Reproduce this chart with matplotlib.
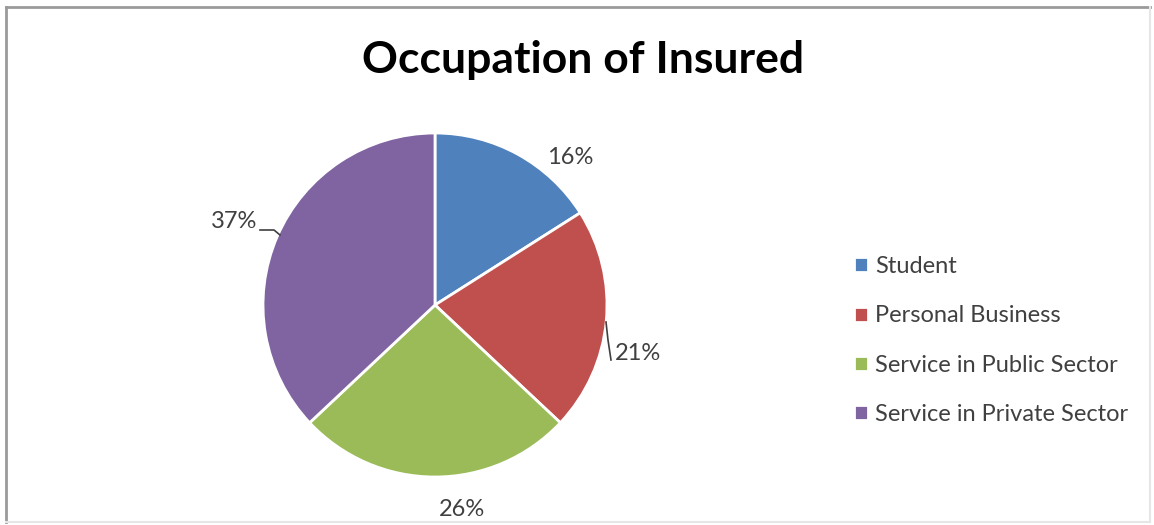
import matplotlib
matplotlib.use('Agg')
import matplotlib.pyplot as plt
from matplotlib.lines import Line2D

plt.rcParams['font.family'] = ['Lato', 'DejaVu Sans']

# Data
categories = ['Student', 'Personal Business', 'Service in Public Sector', 'Service in Private Sector']
shares = [16, 21, 26, 37]
colors = ['#4F81BD', '#C0504D', '#9BBB59', '#8064A2']

W, H = 1154, 525
fig = plt.figure(figsize=(W / 100, H / 100), dpi=100)
ax = fig.add_axes([0, 0, 1, 1])

# Frame: darker on the left/top, faint on the right/bottom
frame = [((6, 6), (522, 7), '#9a9a9a', 2.0),
         ((6, 1150), (7, 7), '#9a9a9a', 2.0),
         ((1150, 1150), (7, 522), '#e6e6e6', 1.5),
         ((6, 1150), (522, 522), '#e6e6e6', 1.5)]
for xs, ys, c, lw in frame:
    fig.lines.append(Line2D([x / W for x in xs], [1 - y / H for y in ys],
                            transform=fig.transFigure, color=c, lw=lw))

cx, cy, r = 435, H - 305, 172
wedges, _ = ax.pie(shares, colors=colors, startangle=90, counterclock=False,
                   center=(cx, cy), radius=r, frame=True,
                   wedgeprops=dict(edgecolor='white', linewidth=2))
ax.set_xlim(0, W)
ax.set_ylim(0, H)
ax.set_aspect('equal')
ax.axis('off')

# Percentage labels (pixel positions, y measured from top)
label_pos = [(570, 158), (638, 353), (462, 510), (234, 221)]
for val, (x, y) in zip(shares, label_pos):
    ax.text(x, H - y, f'{val}%', ha='center', va='center', fontsize=17, color='#404040')

# Leader lines for the side labels
ax.plot([606, 608, 611], [H - 322, H - 340, H - 360], color='#404040', lw=1.2)
ax.plot([260, 274, 280], [H - 230, H - 230, H - 235], color='#404040', lw=1.2)

ax.text(583, H - 60, 'Occupation of Insured', ha='center', va='center',
        fontsize=32, fontweight='bold', color='black')

leg = ax.legend(wedges, categories, loc='upper left',
                bbox_to_anchor=(854 / W, 1 - 256 / H), frameon=False,
                fontsize=17, labelspacing=1.2, handlelength=0.6, handleheight=0.6,
                handletextpad=0.3, borderpad=0, borderaxespad=0)
for t in leg.get_texts():
    t.set_color('#404040')

fig.savefig('out.png', dpi=100)
